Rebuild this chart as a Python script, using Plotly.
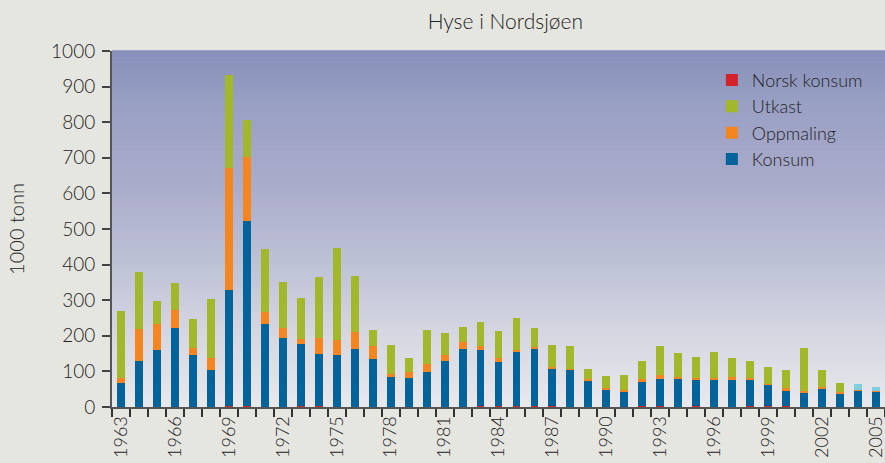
import plotly.graph_objects as go

years = list(range(1963, 2006))

norsk_konsum = [0, 0, 0, 0, 0, 0, 2, 2, 0, 0,
                4, 4, 0, 0, 0, 0, 0, 0, 0, 0,
                3, 3, 3, 3, 3, 0, 0, 0, 0, 3,
                3, 0, 3, 0, 0, 3, 3, 3, 0, 0,
                0, 0, 0]
konsum = [67, 128, 159, 223, 145, 103, 328, 521, 232, 193,
          174, 144, 145, 164, 136, 84, 81, 97, 128, 164,
          156, 124, 154, 162, 104, 104, 75, 50, 44, 66,
          75, 81, 72, 75, 78, 74, 61, 42, 38, 52,
          39, 45, 44]
oppmaling = [14, 90, 75, 49, 22, 36, 342, 180, 34, 28,
             12, 47, 43, 48, 34, 10, 16, 23, 17, 20,
             11, 10, 4, 3, 4, 2, 3, 2, 3, 9,
             11, 2, 6, 6, 5, 4, 2, 7, 6, 3,
             2, 2, 2]
utkast = [190, 162, 65, 75, 79, 163, 260, 103, 179, 129,
          115, 169, 260, 157, 45, 79, 42, 95, 62, 42,
          68, 76, 88, 53, 62, 65, 28, 34, 42, 50,
          82, 68, 59, 73, 54, 47, 46, 51, 121, 48,
          26, 18, 10]
utkast_colors = ["#A2B72A"] * 41 + ["#7DCEDF", "#7DCEDF"]

tick_years = list(range(1963, 2006, 3))
y_ticks = list(range(0, 1001, 100))

fig = go.Figure()
fig.add_trace(go.Bar(x=years, y=norsk_konsum, name="Norsk konsum",
                     marker=dict(color="#D2232A", line=dict(width=0)), legendrank=1))
fig.add_trace(go.Bar(x=years, y=konsum, name="Konsum",
                     marker=dict(color="#00639A", line=dict(width=0)), legendrank=4))
fig.add_trace(go.Bar(x=years, y=oppmaling, name="Oppmaling",
                     marker=dict(color="#F5861F", line=dict(width=0)), legendrank=3))
fig.add_trace(go.Bar(x=years, y=utkast, name="Utkast",
                     marker=dict(color=utkast_colors, line=dict(width=0)), legendrank=2))

# vertical gradient background for the plot area
stops = [(0.0, (232, 232, 236)), (0.2, (214, 215, 226)), (0.4, (190, 194, 214)),
         (0.6, (172, 174, 204)), (0.72, (164, 166, 200)), (0.85, (152, 160, 196)),
         (1.0, (136, 143, 186))]
n = 60
shapes = []
for i in range(n):
    t = (i + 0.5) / n
    for j in range(len(stops) - 1):
        if stops[j][0] <= t <= stops[j + 1][0]:
            a, ca = stops[j]
            b, cb = stops[j + 1]
            f = (t - a) / (b - a)
            c = tuple(int(round(ca[k] + (cb[k] - ca[k]) * f)) for k in range(3))
            break
    shapes.append(dict(type="rect", xref="paper", yref="paper", x0=0, x1=1,
                       y0=i / n, y1=(i + 1) / n + 0.002, fillcolor="rgb(%d,%d,%d)" % c,
                       line=dict(width=0), layer="below"))

font_family = "Lato, 'Open Sans', sans-serif"
text_color = "#222222"

fig.update_layout(
    width=885, height=463,
    margin=dict(l=112, r=0, t=51, b=56, autoexpand=False),
    paper_bgcolor="#E6E6E1",
    plot_bgcolor="rgba(0,0,0,0)",
    barmode="stack",
    bargap=0.56,
    shapes=shapes,
    showlegend=True,
    title=dict(text="Hyse i Nordsjøen", x=0.571, xanchor="center", y=0.953, yanchor="middle",
               font=dict(family=font_family, size=21, color=text_color, weight=300)),
    font=dict(family=font_family, color=text_color),
    legend=dict(x=0.776, y=0.97, xanchor="left", yanchor="top", traceorder="normal",
                bgcolor="rgba(0,0,0,0)", font=dict(size=18, color=text_color, weight=300),
                tracegroupgap=0, itemwidth=30),
    xaxis=dict(range=[1962.5, 2005.5], tickmode="array", tickvals=tick_years,
               ticktext=[str(y) for y in tick_years], tickangle=-90,
               ticks="", showgrid=False, zeroline=False, automargin=False,
               ticklabeloverflow="allow",
               showline=True, linecolor="#555555", linewidth=2,
               tickfont=dict(size=18, color=text_color, weight=300),
               minor=dict(ticks="outside", tick0=1962.5, dtick=1, ticklen=8,
                          tickcolor="#333333", tickwidth=1.5, showgrid=False)),
    yaxis=dict(range=[0, 1000], tickmode="array", tickvals=y_ticks,
               ticks="outside", ticklen=8, tickcolor="#444444", tickwidth=1.5,
               showgrid=False, zeroline=False, showline=True, automargin=False,
               linecolor="#555555", linewidth=2, ticklabelstandoff=3,
               tickfont=dict(size=19, color=text_color, weight=300),
               title=dict(text="1000 tonn", font=dict(size=20, color=text_color, weight=300),
                          standoff=21)),
)

fig.write_html("out.html", config={"displayModeBar": False},
               post_script="document.body.style.margin='0';document.body.style.background='#E6E6E1';")
